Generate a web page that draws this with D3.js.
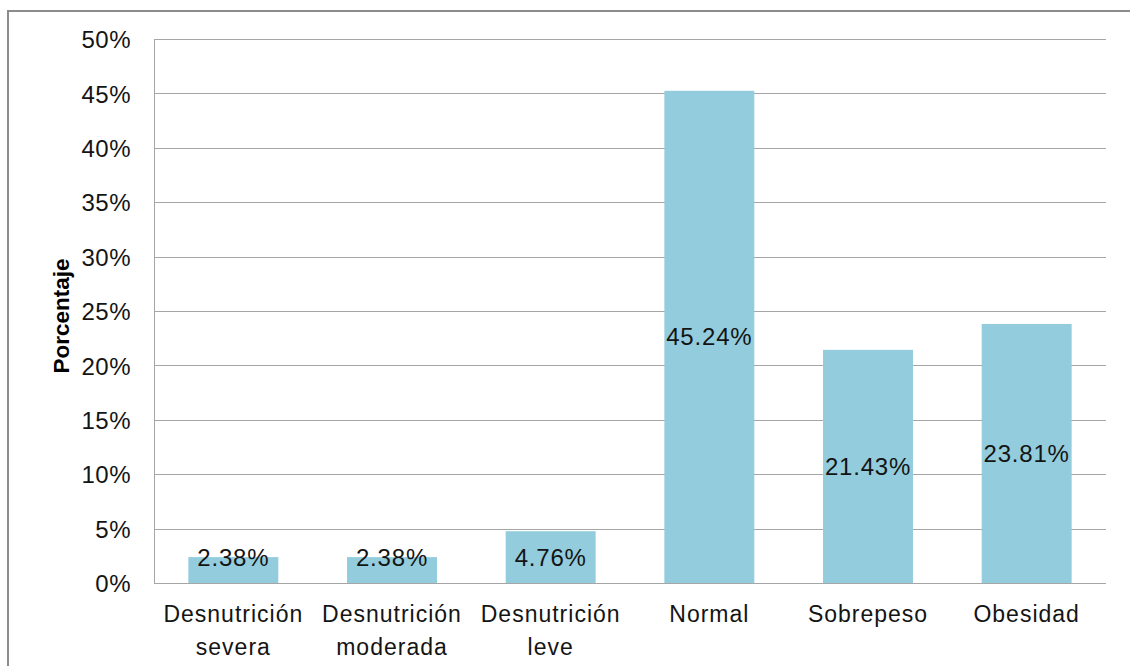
<!DOCTYPE html>
<html>
<head>
<meta charset="utf-8">
<script src="https://cdn.jsdelivr.net/npm/d3@7"></script>
<style>
  html, body { margin: 0; padding: 0; background: #fff; }
  svg { display: block; font-family: "Liberation Sans", Arial, sans-serif; }
</style>
</head>
<body>
<svg id="chart" width="1130" height="666"></svg>
<script>
// Estado nutricional: porcentaje por categoría
const categories = [
  ["Desnutrición", "severa"],
  ["Desnutrición", "moderada"],
  ["Desnutrición", "leve"],
  ["Normal"],
  ["Sobrepeso"],
  ["Obesidad"]
];
const values = [2.38, 2.38, 4.76, 45.24, 21.43, 23.81];
const yTicks = [0, 5, 10, 15, 20, 25, 30, 35, 40, 45, 50];
const yTitle = "Porcentaje";

const svg = d3.select("#chart");
const W = 1130, H = 666;
const plot = { left: 154, right: 1106, top: 39, bottom: 583 };
const ink = "#141414";

// Marco exterior del gráfico
svg.append("rect")
  .attr("x", 8).attr("y", 11)
  .attr("width", W).attr("height", H)
  .attr("fill", "#fff")
  .attr("stroke", "#8c8c8c").attr("stroke-width", 2);

const x = d3.scaleBand()
  .domain(d3.range(categories.length))
  .range([plot.left, plot.right])
  .paddingInner(0.433)
  .paddingOuter(0.2165);

const y = d3.scaleLinear()
  .domain([0, 50])
  .range([plot.bottom, plot.top]);

// Líneas de cuadrícula horizontales
svg.append("g")
  .selectAll("line")
  .data(yTicks)
  .join("line")
  .attr("x1", plot.left).attr("x2", plot.right)
  .attr("y1", d => Math.round(y(d)) + 0.5)
  .attr("y2", d => Math.round(y(d)) + 0.5)
  .attr("stroke", "#a6a6a6").attr("stroke-width", 1);

// Eje Y
const yAxis = svg.append("g")
  .attr("transform", `translate(${plot.left - 23},0)`)
  .call(d3.axisLeft(y).tickValues(yTicks).tickSize(0).tickPadding(0).tickFormat(d => d + "%"));
yAxis.select(".domain").remove();
yAxis.selectAll("text")
  .attr("font-size", 24)
  .attr("letter-spacing", 0.5)
  .attr("dy", "0.36em")
  .attr("fill", ink)
  .attr("font-family", "'Liberation Sans', Arial, sans-serif");

// Línea vertical del eje
svg.append("line")
  .attr("x1", plot.left + 0.5).attr("x2", plot.left + 0.5)
  .attr("y1", plot.top).attr("y2", plot.bottom)
  .attr("stroke", "#a6a6a6");

// Barras
svg.append("g")
  .selectAll("rect")
  .data(values)
  .join("rect")
  .attr("x", (d, i) => x(i))
  .attr("width", x.bandwidth())
  .attr("y", d => y(d))
  .attr("height", d => y(0) - y(d))
  .attr("fill", "#93cddd");

// Línea base
svg.append("line")
  .attr("x1", plot.left).attr("x2", plot.right)
  .attr("y1", plot.bottom + 0.5).attr("y2", plot.bottom + 0.5)
  .attr("stroke", "#a6a6a6");

// Etiquetas de valor centradas en cada barra
svg.append("g")
  .selectAll("text")
  .data(values)
  .join("text")
  .attr("x", (d, i) => x(i) + x.bandwidth() / 2)
  .attr("y", d => Math.min((y(d) + y(0)) / 2, y(0) - 25.5) + 8.6)
  .attr("text-anchor", "middle")
  .attr("font-size", 24)
  .attr("letter-spacing", 0.8)
  .attr("fill", ink)
  .text(d => d.toFixed(2) + "%");

// Etiquetas de categoría
const catG = svg.append("g")
  .selectAll("text")
  .data(categories)
  .join("text")
  .attr("x", (d, i) => x(i) + x.bandwidth() / 2)
  .attr("y", 622)
  .attr("text-anchor", "middle")
  .attr("font-size", 23)
  .attr("letter-spacing", 1)
  .attr("fill", ink);
catG.selectAll("tspan")
  .data(d => d)
  .join("tspan")
  .attr("x", function() { return d3.select(this.parentNode).attr("x"); })
  .attr("dy", (d, j) => j === 0 ? 0 : 33)
  .text(d => d);

// Título del eje Y
svg.append("text")
  .attr("transform", `translate(69,${(plot.top + plot.bottom) / 2 + 5}) rotate(-90)`)
  .attr("text-anchor", "middle")
  .attr("font-size", 22.5)
  .attr("font-weight", "bold")
  .attr("fill", "#000")
  .text(yTitle);
</script>
</body>
</html>
